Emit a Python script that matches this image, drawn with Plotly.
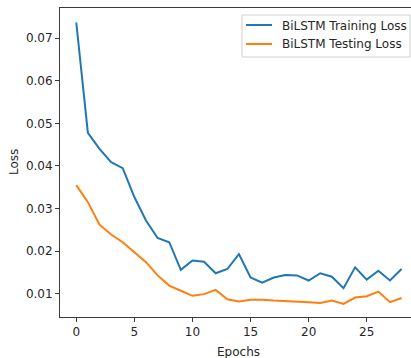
import plotly.graph_objects as go

# Per-epoch loss values for the BiLSTM model
epochs = list(range(29))
train_loss = [0.0737, 0.0478, 0.0440, 0.0409, 0.0395, 0.0327, 0.0272, 0.0231, 0.0221,
              0.0156, 0.0178, 0.0175, 0.0148, 0.0158, 0.0193, 0.0138, 0.0126, 0.0138,
              0.0144, 0.0143, 0.0131, 0.0148, 0.0140, 0.0113, 0.0162, 0.0133, 0.0154,
              0.0131, 0.0158]
test_loss = [0.0355, 0.0315, 0.0262, 0.0239, 0.0221, 0.0197, 0.0174, 0.0143, 0.0119,
             0.0107, 0.0095, 0.0099, 0.0109, 0.0087, 0.0082, 0.0086, 0.0086, 0.0084,
             0.0083, 0.0082, 0.0080, 0.0078, 0.0084, 0.0076, 0.0091, 0.0094, 0.0105,
             0.0080, 0.0090]
series_names = ["BiLSTM Training Loss", "BiLSTM Testing Loss"]
colors = ["#1f77b4", "#ff7f0e"]
x_ticks = [0, 5, 10, 15, 20, 25]
y_ticks = [0.01, 0.02, 0.03, 0.04, 0.05, 0.06, 0.07]

W, H = 411, 358
L, R, T, B = 60, 0, 8, 41
PW, PH = W - L - R, H - T - B
FONT = "DejaVu Sans"
TXT = "#262626"


def px(x):
    return (x - L) / PW


def py(y):
    return (H - B - y) / PH


fig = go.Figure()
for vals, name, col in zip([train_loss, test_loss], series_names, colors):
    fig.add_trace(go.Scatter(x=epochs, y=vals, mode="lines", name=name,
                             line=dict(color=col, width=2), showlegend=False))

axis_common = dict(showgrid=False, zeroline=False, showline=True, linecolor="#3a3a3a",
                   linewidth=1, ticks="outside", ticklen=4, tickwidth=1, tickcolor="#3a3a3a",
                   tickfont=dict(family=FONT, size=12, color=TXT))
fig.update_xaxes(range=[-1.4, 28.81], tickvals=x_ticks, mirror=True, **axis_common)
fig.update_yaxes(range=[0.00453, 0.0771], tickvals=y_ticks, tickformat=".2f",
                 mirror=False, **axis_common)

# legend frame, sample lines and labels
shapes = [dict(type="rect", xref="paper", yref="paper", x0=px(242), x1=px(410),
               y0=py(57), y1=py(15), line=dict(color="#d0d0d0", width=1),
               fillcolor="rgba(255,255,255,0.8)", layer="above")]
annotations = []
for i, (name, col) in enumerate(zip(series_names, colors)):
    yy = 25 + 19 * i
    shapes.append(dict(type="line", xref="paper", yref="paper", x0=px(246), x1=px(272),
                       y0=py(yy), y1=py(yy), line=dict(color=col, width=2), layer="above"))
    annotations.append(dict(text=name, xref="paper", yref="paper", x=px(280), y=py(yy + 0.5),
                            xanchor="left", yanchor="middle", showarrow=False,
                            font=dict(family=FONT, size=12, color=TXT)))

annotations.append(dict(text="Epochs", xref="paper", yref="paper", x=px(238.5), y=py(352),
                        xanchor="center", yanchor="middle", showarrow=False,
                        font=dict(family=FONT, size=12, color=TXT)))
annotations.append(dict(text="Loss", xref="paper", yref="paper", x=px(13.5), y=py(162.5),
                        xanchor="center", yanchor="middle", showarrow=False, textangle=-90,
                        font=dict(family=FONT, size=12, color=TXT)))

fig.update_layout(width=W, height=H, margin=dict(l=L, r=R, t=T, b=B),
                  paper_bgcolor="white", plot_bgcolor="white",
                  shapes=shapes, annotations=annotations)

fig.write_html("out.html")
